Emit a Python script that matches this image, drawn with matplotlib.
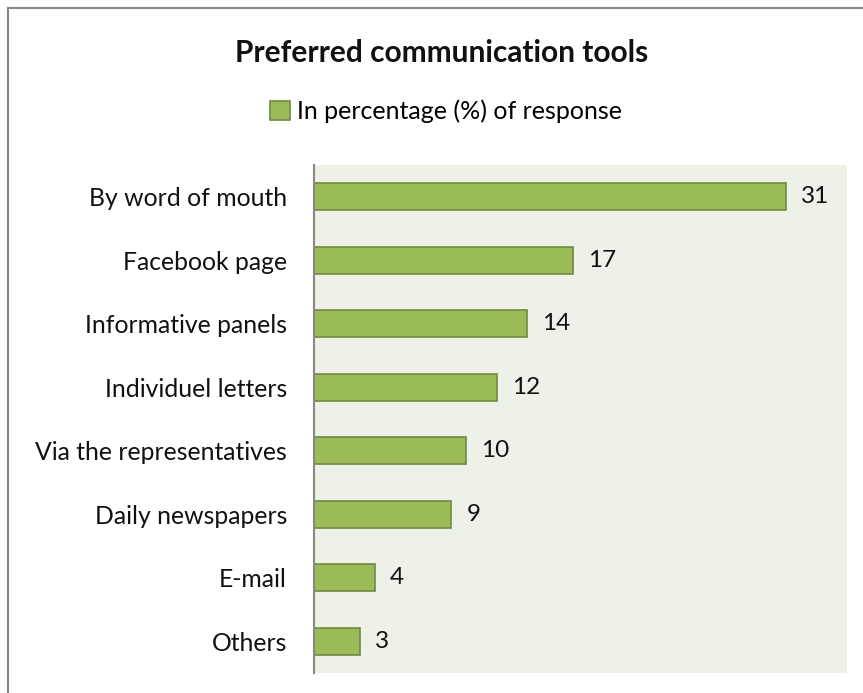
import matplotlib.pyplot as plt
from matplotlib.patches import Rectangle

categories = ["By word of mouth", "Facebook page", "Informative panels",
              "Individuel letters", "Via the representatives",
              "Daily newspapers", "E-mail", "Others"]
values = [31, 17, 14, 12, 10, 9, 4, 3]

bar_color = "#9BBB59"
edge_color = "#71893F"
plot_bg = "#EEF1E7"

plt.rcParams["font.family"] = ["Lato", "DejaVu Sans"]

fig = plt.figure(figsize=(8.63, 6.93), dpi=100)
fig.patch.set_facecolor("white")

# chart frame (only top and left edges fall inside the image)
frame = Rectangle((8 / 863, -0.1), 1.2, 1 - 8 / 693 + 0.1,
                  transform=fig.transFigure, fill=False,
                  edgecolor="#888888", linewidth=1.5)
fig.patches.append(frame)

ax = fig.add_axes([314 / 863, 1 - 673 / 693, 533 / 863, 508 / 693])
ax.set_facecolor(plot_bg)

y = list(range(len(categories)))
ax.barh(y, values, height=0.43, color=bar_color, edgecolor=edge_color,
        linewidth=1.2, label="In percentage (%) of response")
ax.set_ylim(len(categories) - 0.5, -0.5)
ax.set_xlim(0, 35)

for yi, v in zip(y, values):
    ax.text(v + 1.0, yi, str(v), va="center", ha="left", fontsize=17.5,
            color="#111111")

ax.set_yticks(y)
ax.set_yticklabels(categories, fontsize=17.8, color="#111111")
ax.tick_params(axis="y", length=0, pad=19.5)
ax.set_xticks([])
for side in ["top", "right", "bottom"]:
    ax.spines[side].set_visible(False)
ax.spines["left"].set_color("#888888")
ax.spines["left"].set_linewidth(1.5)

fig.text(442 / 863, 1 - 53 / 693, "Preferred communication tools",
         ha="center", va="center", fontsize=21.5, fontweight="bold",
         color="#111111")

leg = fig.legend(loc="center", bbox_to_anchor=(446 / 863, 1 - 111 / 693),
                 frameon=False, fontsize=18, handlelength=0.8,
                 handleheight=0.8, handletextpad=0.3)

fig.savefig("out.png", dpi=100)
